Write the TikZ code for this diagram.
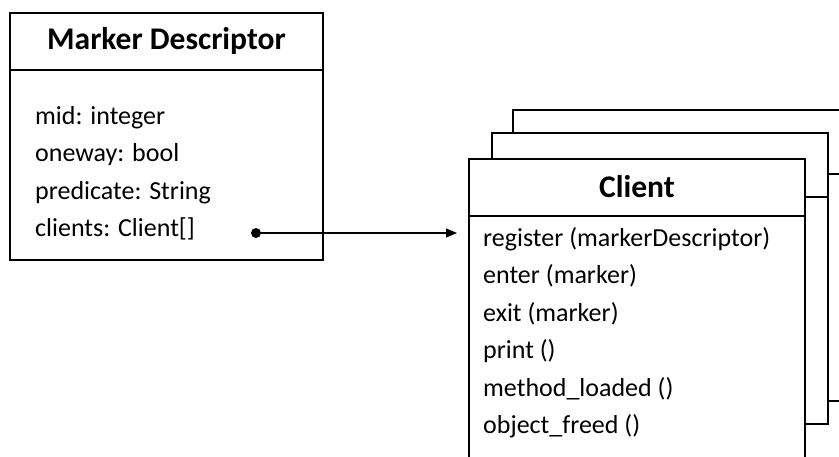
\documentclass[tikz,border=0pt]{standalone}
\usepackage{fontspec}
\setmainfont{Carlito}
\usetikzlibrary{arrows.meta}
\tikzset{
  boxline/.style={draw=black, line width=1.3pt, fill=white},
  divline/.style={draw=black, line width=1.3pt},
  titletext/.style={font=\fontsize{31.5}{36}\selectfont\bfseries, inner sep=0pt, anchor=base},
  bodytext/.style={font=\fontsize{26}{30}\selectfont, inner sep=0pt, anchor=base west},
  linkline/.style={draw=black, line width=1.3pt, -{Triangle[length=11pt,width=9pt]}},
  dotnode/.style={circle, fill=black, inner sep=0pt, minimum size=10pt}
}
\begin{document}
\begin{tikzpicture}[x=1pt,y=-1pt]
\useasboundingbox (0,0) rectangle (839,456);
\clip (0,0) rectangle (839,456);
\fill[white] (0,0) rectangle (839,456);
% Marker Descriptor box
\draw[boxline] (10,13) rectangle (323,260);
\draw[divline] (10,70) -- (323,70);
\node[titletext] (mdtitle) at (166.5,49.5) {Marker Descriptor};
\node[bodytext] (mid) at (35,124) {mid: integer};
\node[bodytext] (oneway) at (35,161.5) {oneway: bool};
\node[bodytext] (pred) at (35,199) {predicate: String};
\node[bodytext] (clients) at (35,236.5) {clients: Client[]};
% stacked Client boxes
\draw[boxline] (513,110) rectangle (862,401);
\draw[divline] (513,174) -- (862,174);
\draw[boxline] (492,133) rectangle (828,424);
\draw[divline] (492,197) -- (828,197);
\draw[boxline] (469,159) rectangle (805,480);
\draw[divline] (469,216) -- (805,216);
\node[titletext] (ctitle) at (637,197) {Client};
\node[bodytext] (m1) at (483,246) {register (markerDescriptor)};
\node[bodytext] (m2) at (483,283.5) {enter (marker)};
\node[bodytext] (m3) at (483,321) {exit (marker)};
\node[bodytext] (m4) at (483,358.5) {print ()};
\node[bodytext] (m5) at (483,396) {method\_loaded ()};
\node[bodytext] (m6) at (483,433.5) {object\_freed ()};
% connector
\node[dotnode] (dot) at (256,233) {};
\coordinate (tip) at (457,233);
\draw[linkline] (dot.center) -- (tip);
\end{tikzpicture}
\end{document}
